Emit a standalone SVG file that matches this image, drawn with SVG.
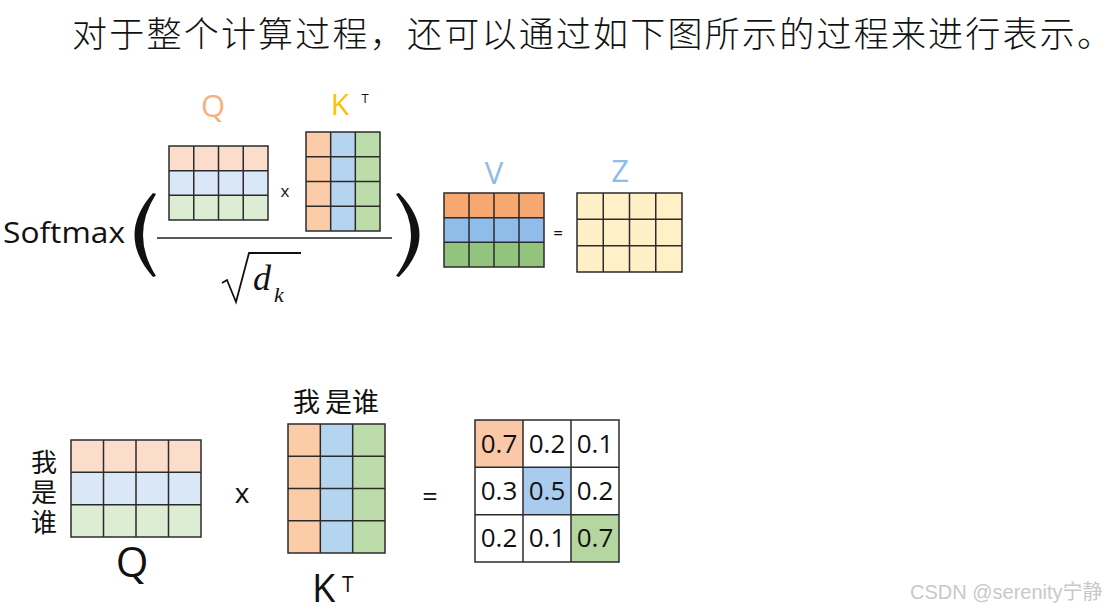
<svg xmlns="http://www.w3.org/2000/svg" width="1114" height="614" viewBox="0 0 1114 614">
<style>
.grid{fill:none;stroke:#2b2b2b;stroke-width:1.5}
.lbl{font-family:"Open Sans","Liberation Sans",sans-serif}
.cjk{font-family:"Noto Sans CJK SC",sans-serif}
.num{font-family:"Open Sans","Liberation Sans",sans-serif;font-size:26px;fill:#111;text-anchor:middle}
</style>
<rect width="1114" height="614" fill="#ffffff"/>
<text class="cjk" x="72" y="47" font-size="35" font-weight="300" fill="#111" textLength="1040" lengthAdjust="spacing">对于整个计算过程，还可以通过如下图所示的过程来进行表示。</text>

<g id="softmax">
<text class="lbl" x="3" y="243" font-size="29" fill="#111" textLength="122" lengthAdjust="spacingAndGlyphs">Softmax</text>
<path d="M153,193 Q116,235 153,277 L156,276 Q130,235 156,194 Z" fill="#111"/>
<path d="M399,193 Q440,235 399,277 L396,276 Q426,235 396,194 Z" fill="#111"/>
<line x1="157" y1="238" x2="392" y2="238" stroke="#222" stroke-width="1.6"/>
</g>

<g id="sqrt-dk">
<path d="M222,283 L227,280 L236,302 L249,253 L301,253" fill="none" stroke="#111" stroke-width="1.8"/>
<text x="253" y="290" font-family="Liberation Serif,serif" font-style="italic" font-size="36" fill="#111">d</text>
<text x="274" y="302" font-family="Liberation Serif,serif" font-style="italic" font-size="22" fill="#111">k</text>
</g>

<g id="q-top">
<text class="lbl" x="213" y="117" font-size="31" fill="#F6B07E" text-anchor="middle">Q</text>
<rect x="169" y="146" width="99" height="24.67" fill="#FCDCCB"/>
<rect x="169" y="170.67" width="99" height="24.67" fill="#D9E7F6"/>
<rect x="169" y="195.33" width="99" height="24.67" fill="#DDEDD4"/>
<rect class="grid" x="169" y="146" width="99" height="74"/>
<path class="grid" d="M193.75,146V220M218.5,146V220M243.25,146V220M169,170.67H268M169,195.33H268"/>
</g>

<text class="lbl" x="285" y="197" font-size="17" fill="#111" text-anchor="middle">x</text>

<g id="kt-top">
<text class="lbl" x="340" y="115" font-size="30" fill="#FFC000" text-anchor="middle">K</text>
<text class="lbl" x="365" y="103" font-size="13" fill="#111" text-anchor="middle">T</text>
<rect x="306" y="132" width="24.67" height="99" fill="#FCCCA8"/>
<rect x="330.67" y="132" width="24.67" height="99" fill="#B4D4F0"/>
<rect x="355.33" y="132" width="24.67" height="99" fill="#BCDDAA"/>
<rect class="grid" x="306" y="132" width="74" height="99"/>
<path class="grid" d="M330.67,132V231M355.33,132V231M306,156.75H380M306,181.5H380M306,206.25H380"/>
</g>

<g id="v-top">
<text class="lbl" x="494" y="184" font-size="31" fill="#8FBCE8" text-anchor="middle">V</text>
<rect x="444" y="193" width="100" height="24.67" fill="#F7A770"/>
<rect x="444" y="217.67" width="100" height="24.67" fill="#8FBCE8"/>
<rect x="444" y="242.33" width="100" height="24.67" fill="#93C47D"/>
<rect class="grid" x="444" y="193" width="100" height="74"/>
<path class="grid" d="M469,193V267M494,193V267M519,193V267M444,217.67H544M444,242.33H544"/>
</g>

<text class="lbl" x="558" y="239" font-size="17" fill="#111" text-anchor="middle">=</text>

<g id="z-top">
<text class="lbl" x="620" y="182" font-size="31" fill="#8FBCE8" text-anchor="middle">Z</text>
<rect x="577" y="193" width="105" height="79" fill="#FFF0C8"/>
<rect class="grid" x="577" y="193" width="105" height="79"/>
<path class="grid" d="M603.25,193V272M629.5,193V272M655.75,193V272M577,219.33H682M577,245.67H682"/>
</g>

<g id="q-bottom">
<text class="cjk" x="44" y="449" font-size="26" fill="#111" writing-mode="vertical-rl" letter-spacing="4">我是谁</text>
<rect x="71" y="440" width="130" height="32.33" fill="#FCDCCB"/>
<rect x="71" y="472.33" width="130" height="32.33" fill="#D9E7F6"/>
<rect x="71" y="504.67" width="130" height="32.33" fill="#DDEDD4"/>
<rect class="grid" x="71" y="440" width="130" height="97"/>
<path class="grid" d="M103.5,440V537M136,440V537M168.5,440V537M71,472.33H201M71,504.67H201"/>
<text class="lbl" x="132" y="577" font-size="42" fill="#111" text-anchor="middle">Q</text>
</g>

<text class="lbl" x="242" y="503" font-size="28" fill="#111" text-anchor="middle">x</text>

<g id="kt-bottom">
<text class="cjk" x="293" y="412" font-size="27" fill="#111">我</text>
<text class="cjk" x="325" y="412" font-size="27" fill="#111">是谁</text>
<rect x="288" y="424" width="32.33" height="129" fill="#FCCCA8"/>
<rect x="320.33" y="424" width="32.33" height="129" fill="#B4D4F0"/>
<rect x="352.67" y="424" width="32.33" height="129" fill="#BCDDAA"/>
<rect class="grid" x="288" y="424" width="97" height="129"/>
<path class="grid" d="M320.33,424V553M352.67,424V553M288,456.25H385M288,488.5H385M288,520.75H385"/>
<text class="lbl" x="312" y="602" font-size="38" fill="#111">K</text>
<text class="lbl" x="342" y="592" font-size="21" fill="#111">T</text>
</g>

<text class="lbl" x="430" y="506" font-size="27" fill="#111" text-anchor="middle">=</text>

<g id="result">
<rect x="475" y="420" width="144" height="142" fill="#ffffff"/>
<rect x="475" y="420" width="48" height="47.33" fill="#FAC8A6"/>
<rect x="523" y="467.33" width="48" height="47.33" fill="#A9CCEE"/>
<rect x="571" y="514.67" width="48" height="47.33" fill="#B5D6A0"/>
<rect class="grid" x="475" y="420" width="144" height="142"/>
<path class="grid" d="M523,420V562M571,420V562M475,467.33H619M475,514.67H619"/>
<text class="num" x="499" y="453">0.7</text>
<text class="num" x="547" y="453">0.2</text>
<text class="num" x="595" y="453">0.1</text>
<text class="num" x="499" y="500">0.3</text>
<text class="num" x="547" y="500">0.5</text>
<text class="num" x="595" y="500">0.2</text>
<text class="num" x="499" y="547">0.2</text>
<text class="num" x="547" y="547">0.1</text>
<text class="num" x="595" y="547">0.7</text>
</g>

<text x="910" y="599" font-family="Liberation Sans,Noto Sans CJK SC,sans-serif" font-size="20" fill="#c8c8c8">CSDN @serenity宁静</text>
</svg>
